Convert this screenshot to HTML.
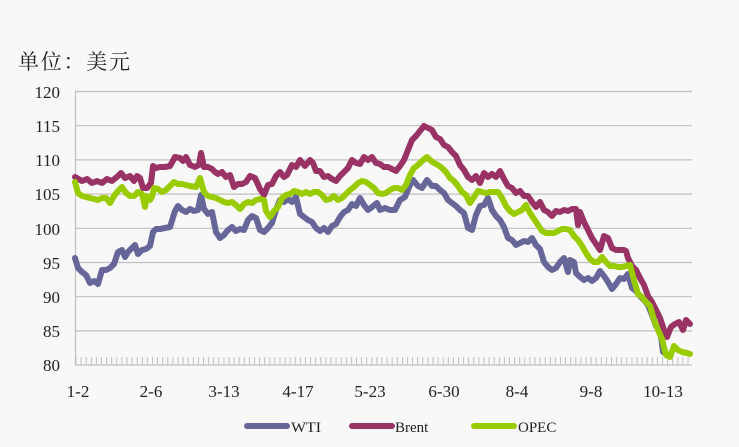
<!DOCTYPE html>
<html><head><meta charset="utf-8"><style>
html,body{margin:0;padding:0;background:#f8f8f8;}
svg{display:block}
text{font-family:"Liberation Serif","Noto Serif CJK SC",serif;fill:#222}
</style></head><body>
<svg width="739" height="447" viewBox="0 0 739 447" xmlns="http://www.w3.org/2000/svg">
<rect width="739" height="447" fill="#f8f8f8"/>
<text x="18" y="69" font-size="21" textLength="112" lengthAdjust="spacing" font-family="Liberation Sans, Noto Sans CJK SC, sans-serif">单位：美元</text>
<g stroke="#c0c0c0" stroke-width="1.2">
<line x1="75" y1="91.5" x2="692" y2="91.5"/>
<line x1="75" y1="125.7" x2="692" y2="125.7"/>
<line x1="75" y1="159.9" x2="692" y2="159.9"/>
<line x1="75" y1="194.1" x2="692" y2="194.1"/>
<line x1="75" y1="228.3" x2="692" y2="228.3"/>
<line x1="75" y1="262.5" x2="692" y2="262.5"/>
<line x1="75" y1="296.7" x2="692" y2="296.7"/>
<line x1="75" y1="330.9" x2="692" y2="330.9"/>
<line x1="75" y1="365" x2="692" y2="365"/>
<line x1="75.5" y1="91.5" x2="75.5" y2="365"/>
</g>
<defs><pattern id="tk" x="75.5" y="0" width="5.1" height="10" patternUnits="userSpaceOnUse"><line x1="0.5" y1="0" x2="0.5" y2="10" stroke="#c0c0c0" stroke-width="1"/></pattern></defs>
<rect x="75" y="357" width="617" height="8" fill="url(#tk)"/>
<g font-size="17" text-anchor="end">
<text x="60" y="98">120</text><text x="60" y="132">115</text><text x="60" y="166">110</text>
<text x="60" y="200">105</text><text x="60" y="235">100</text><text x="60" y="269">95</text>
<text x="60" y="303">90</text><text x="60" y="337">85</text><text x="60" y="371">80</text>
</g>
<g font-size="17" text-anchor="middle">
<text x="78" y="397">1-2</text><text x="151" y="397">2-6</text><text x="224" y="397">3-13</text>
<text x="298" y="397">4-17</text><text x="370" y="397">5-23</text><text x="444" y="397">6-30</text>
<text x="517" y="397">8-4</text><text x="591" y="397">9-8</text><text x="663" y="397">10-13</text>
</g>
<g fill="none" stroke-width="6" stroke-linejoin="round" stroke-linecap="round">
<polyline stroke="#666699" points="75,258 78,268 82,272 86,275 90,283 94,281 98,284 102,270 106,270 110,268 114,264 118,252 122,250 125,257 128,252 132,248 135,245 138,254 142,250 146,249 150,246 153,232 156,229 160,229 165,228 170,227 175,211 178,206 182,210 186,212 190,209 194,211 198,210 201,195 204,209 208,214 212,212 216,232 220,238 224,235 228,230 232,227 236,231 240,229 244,230 248,220 252,216 256,218 260,230 264,232 268,228 272,223 276,210 280,200 284,202 288,199 292,202 296,197 300,214 304,217 308,220 312,222 316,228 320,231 324,228 328,232 332,226 336,224 340,217 344,212 348,210 352,204 356,206 360,198 364,205 368,210 372,207 377,203 380,210 385,208 390,210 395,210 400,200 405,197 410,185 413,180 418,186 422,188 427,180 432,186 436,186 440,190 444,193 448,200 452,203 456,206 460,210 464,213 468,228 472,230 476,215 480,206 484,205 488,198 492,210 496,216 500,220 504,227 508,238 512,240 516,245 520,243 524,241 528,242 532,238 536,245 540,249 544,262 548,267 552,270 556,268 560,262 564,258 568,272 570,260 574,262 576,273 580,277 584,280 588,278 592,281 596,278 600,271 604,276 608,282 612,289 616,284 620,278 624,279 628,274 632,288 636,291 640,296 644,300 648,305 652,315 656,326 660,328 663,352 667,354"/>
<polyline stroke="#993366" points="75,177 82,181 87,179 92,183 97,181 102,183 107,179 112,181 118,176 121,173 125,178 130,176 134,181 137,176 140,178 143,188 147,188 151,183 153,166 156,168 160,167 165,167 170,166 175,157 180,158 183,161 186,157 190,165 195,167 199,165 201,153 204,167 208,167 212,169 215,172 218,174 222,172 226,177 230,175 234,187 238,184 242,184 246,182 250,176 255,178 260,189 264,195 268,185 272,184 276,176 280,172 284,177 287,175 292,165 296,167 300,160 305,166 310,160 313,163 316,171 320,171 324,177 328,176 332,179 336,181 340,176 344,172 348,168 352,160 356,163 360,164 364,157 368,160 372,157 376,163 380,164 384,167 388,167 392,169 396,171 400,166 404,160 408,150 412,140 416,136 420,131 424,126 428,128 432,130 436,137 440,139 444,145 448,147 452,152 456,156 460,165 464,170 468,177 472,180 476,176 480,183 484,173 488,177 492,174 496,177 500,171 504,179 508,186 512,188 516,193 520,191 524,196 528,196 532,202 536,207 540,202 544,210 548,212 552,216 556,211 560,212 564,210 568,211 572,209 576,209 578,225 580,212 584,222 588,230 592,238 596,244 600,250 604,236 608,238 612,248 616,250 620,250 624,250 626,251 628,258 632,266 636,270 640,278 644,285 648,296 652,302 656,310 660,318 664,330 667,337 671,327 675,324 679,322 683,330 686,320 690,324"/>
<polyline stroke="#99cc00" points="75,182 78,193 82,196 86,197 90,198 94,199 98,200 102,198 106,198 110,203 114,196 118,191 122,187 126,193 130,196 134,196 138,192 142,194 145,207 147,196 150,200 152,197 154,188 158,189 162,192 166,190 170,186 174,182 178,184 182,184 186,185 190,186 196,187 200,178 204,192 208,196 212,197 216,198 220,200 224,202 228,203 232,202 236,205 240,209 244,204 248,202 252,203 256,200 260,199 264,200 266,211 270,217 274,211 278,207 282,198 286,195 290,194 294,191 298,192 302,194 306,192 310,194 314,192 318,192 322,195 326,200 330,199 334,196 338,200 342,198 346,194 350,190 354,187 358,183 362,181 366,182 370,185 374,188 378,193 382,194 386,193 390,190 394,188 398,188 402,190 406,185 410,175 414,168 418,165 422,161 427,157 430,160 434,163 438,165 442,168 446,172 450,178 454,181 458,186 462,192 466,195 470,203 474,197 478,191 482,192 486,193 490,192 494,192 498,192 502,198 506,206 510,211 514,214 518,212 522,210 526,205 530,213 534,219 538,225 542,231 546,233 550,233 554,233 558,231 562,229 566,229 570,230 574,236 578,240 582,246 586,253 590,259 594,262 598,262 602,257 606,262 610,266 614,266 618,267 622,267 626,266 630,265 634,280 638,294 642,297 646,302 650,306 654,320 658,330 662,339 666,355 670,357 674,346 678,350 682,352 687,353 690,354"/>
<line stroke="#666699" x1="247" y1="426" x2="287" y2="426"/>
<line stroke="#993366" x1="352" y1="426" x2="392" y2="426"/>
<line stroke="#99cc00" x1="474" y1="426" x2="514" y2="426"/>
</g>
<g font-size="15">
<text x="291" y="432" textLength="30" lengthAdjust="spacingAndGlyphs">WTI</text>
<text x="395" y="432">Brent</text>
<text x="518" y="432">OPEC</text>
</g>
</svg>
</body></html>
